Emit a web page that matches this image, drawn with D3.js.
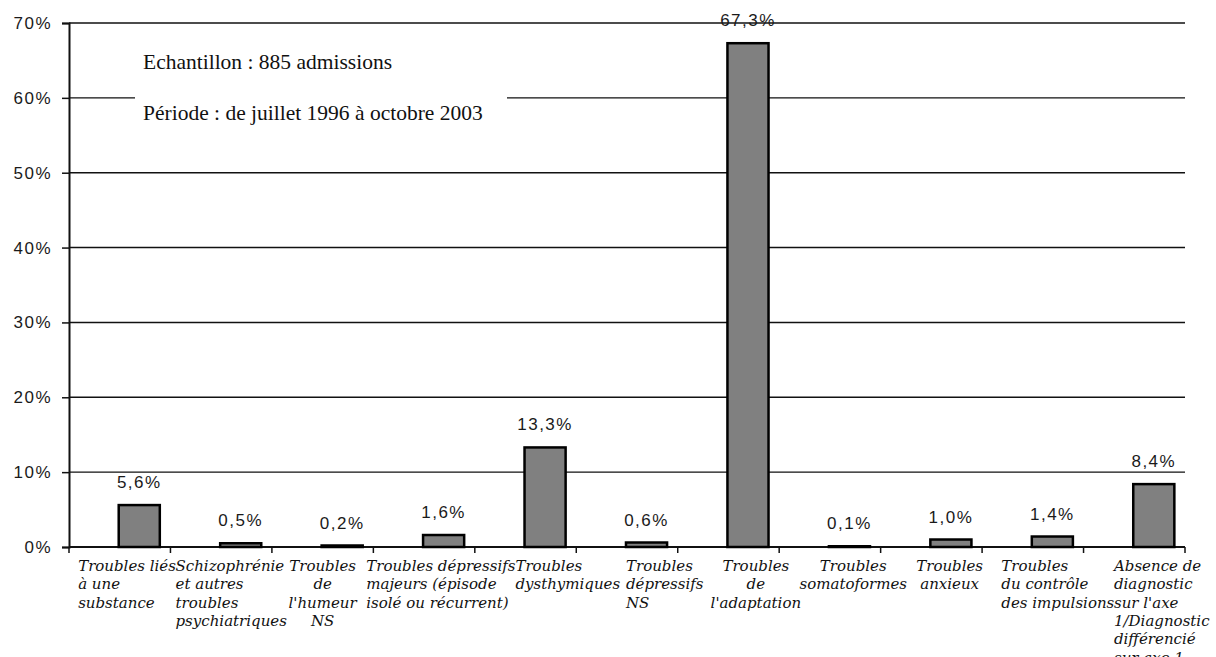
<!DOCTYPE html>
<html>
<head>
<meta charset="utf-8">
<script src="https://cdn.jsdelivr.net/npm/d3@7"></script>
<style>
  html, body { margin: 0; padding: 0; background: #fff; }
  svg { display: block; }
</style>
</head>
<body>
<svg id="chart" width="1216" height="657"></svg>
<script>
// Diagnostic categories (axis 1), one label line per array entry
const categories = [
  ["Troubles liés", "à  une", "substance"],
  ["Schizophrénie", "et autres", "troubles", "psychiatriques"],
  ["Troubles", "de", "l'humeur", "NS"],
  ["Troubles dépressifs", "majeurs (épisode", "isolé ou récurrent)"],
  ["Troubles", "dysthymiques"],
  ["Troubles", "dépressifs", "NS"],
  ["Troubles", "de", "l'adaptation"],
  ["Troubles", "somatoformes"],
  ["Troubles", "anxieux"],
  ["Troubles", "du contrôle", "des impulsions"],
  ["Absence de", "diagnostic", "sur l'axe", "1/Diagnostic", "différencié", "sur axe 1"]
];
// Share of admissions per category (%)
const values = [5.6, 0.5, 0.2, 1.6, 13.3, 0.6, 67.3, 0.1, 1.0, 1.4, 8.4];
const valueLabels = ["5,6%", "0,5%", "0,2%", "1,6%", "13,3%", "0,6%", "67,3%", "0,1%", "1,0%", "1,4%", "8,4%"];
const yTicks = [0, 10, 20, 30, 40, 50, 60, 70];
const yTickLabels = ["0%", "10%", "20%", "30%", "40%", "50%", "60%", "70%"];
const noteLines = ["Echantillon : 885 admissions", "Période : de juillet 1996 à octobre 2003"];

// Category label layout: anchor offset as a fraction of the band,
// and whether lines are centred on it (otherwise left-aligned from it)
const labelOffset = [0.09, 0.05, 0.5, -0.07, 0.40, 0.49, 0.77, 0.73, 0.68, 0.19, 0.30];
const labelCentred = [false, false, true, false, false, false, true, true, true, false, false];

const svg = d3.select("#chart");
const plotLeft = 69, plotRight = 1185, plotTop = 23, plotBottom = 547;

const x = d3.scaleBand().domain(d3.range(categories.length)).range([plotLeft, plotRight]).padding(0);
const y = d3.scaleLinear().domain([0, 70]).range([plotBottom, plotTop]);
const bw = x.bandwidth();
const barX = i => x(i) + bw * 0.49;
const barW = bw * 0.405;

// horizontal gridlines
svg.append("g").selectAll("line")
  .data(yTicks.filter(t => t > 0))
  .join("line")
  .attr("x1", plotLeft).attr("x2", plotRight)
  .attr("y1", d => y(d)).attr("y2", d => y(d))
  .attr("stroke", "#111").attr("stroke-width", 1.4);

// note box masks the gridline behind it
const note = svg.append("g");
note.append("rect")
  .attr("x", 135).attr("y", 38).attr("width", 372).attr("height", 95)
  .attr("fill", "#fff");
note.selectAll("text")
  .data(noteLines)
  .join("text")
  .attr("x", 143)
  .attr("y", (d, i) => 69 + i * 51)
  .attr("font-family", "'Liberation Serif', 'Times New Roman', serif")
  .attr("font-size", 21.5)
  .attr("fill", "#111")
  .text(d => d);

// y axis
const yAxis = d3.axisLeft(y).tickValues(yTicks).tickFormat((d, i) => yTickLabels[i]).tickSize(7).tickPadding(10);
const gy = svg.append("g").attr("transform", `translate(${plotLeft},0)`).call(yAxis);
gy.select(".domain").attr("stroke", "#111").attr("stroke-width", 2);
gy.selectAll(".tick line").attr("stroke", "#111").attr("stroke-width", 1.5);
gy.selectAll(".tick text")
  .attr("font-family", "'Liberation Sans', Arial, sans-serif")
  .attr("font-size", 17)
  .attr("letter-spacing", 1.5)
  .attr("fill", "#1a1a1a");

// x axis baseline with category ticks
const gx = svg.append("g");
gx.append("line")
  .attr("x1", plotLeft).attr("x2", plotRight).attr("y1", plotBottom).attr("y2", plotBottom)
  .attr("stroke", "#111").attr("stroke-width", 2);
gx.selectAll("line.tick")
  .data(d3.range(categories.length + 1))
  .join("line")
  .attr("class", "tick")
  .attr("x1", i => i < categories.length ? x(i) : plotRight)
  .attr("x2", i => i < categories.length ? x(i) : plotRight)
  .attr("y1", plotBottom).attr("y2", plotBottom + 6)
  .attr("stroke", "#111").attr("stroke-width", 1.5);

// bars
svg.append("g").selectAll("rect")
  .data(values)
  .join("rect")
  .attr("x", (d, i) => barX(i))
  .attr("width", barW)
  .attr("y", d => y(d))
  .attr("height", d => plotBottom - y(d))
  .attr("fill", "#808080")
  .attr("stroke", "#000")
  .attr("stroke-width", 2.5);

// value labels
svg.append("g").selectAll("text")
  .data(values)
  .join("text")
  .attr("x", (d, i) => barX(i) + barW / 2)
  .attr("y", d => y(d) - 17)
  .attr("text-anchor", "middle")
  .attr("font-family", "'Liberation Sans', Arial, sans-serif")
  .attr("font-size", 17)
  .attr("letter-spacing", 1.5)
  .attr("fill", "#1a1a1a")
  .text((d, i) => valueLabels[i]);

// category labels
const gl = svg.append("g");
categories.forEach((lines, i) => {
  const ax = x(i) + bw * labelOffset[i];
  gl.append("g").selectAll("text")
    .data(lines)
    .join("text")
    .attr("x", ax)
    .attr("y", (d, k) => 571 + k * 18.3)
    .attr("text-anchor", labelCentred[i] ? "middle" : "start")
    .attr("font-family", "'DejaVu Serif', serif")
    .attr("font-style", "italic")
    .attr("font-size", 15)
    .attr("fill", "#111")
    .text(d => d);
});
</script>
</body>
</html>
